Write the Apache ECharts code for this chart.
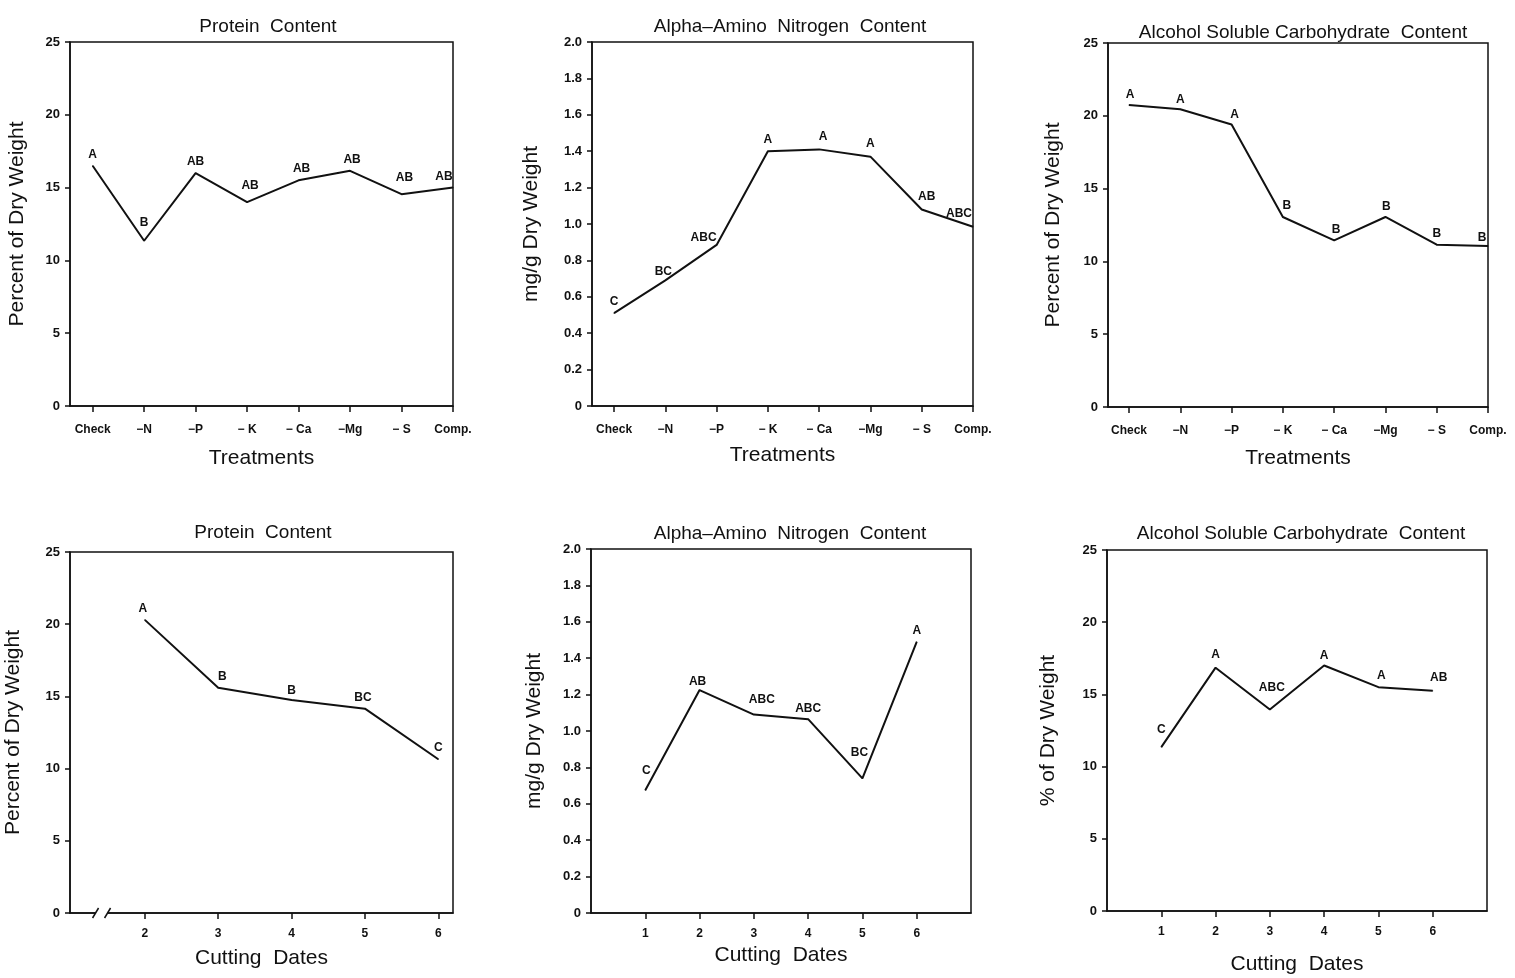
<!DOCTYPE html>
<html>
<head>
<meta charset="utf-8">
<script src="https://cdn.jsdelivr.net/npm/echarts@6.0.0/dist/echarts.min.js"></script>
<style>
html, body { margin: 0; padding: 0; background: #fff; }
#chart { width: 1515px; height: 978px; }
</style>
</head>
<body>
<div id="chart"></div>
<script>
// treatments (top row) and cutting dates (bottom row)
var treatments = ["Check", "\u2212N", "\u2212P", "\u2212 K", "\u2212 Ca", "\u2212Mg", "\u2212 S", "Comp."];
var treatmentIdx = [0, 1, 2, 3, 4, 5, 6, 7];
var cuttingDates = [1, 2, 3, 4, 5, 6];
var proteinDates = [2, 3, 4, 5, 6];

var proteinTrt = [16.5, 11.35, 16.0, 14.0, 15.5, 16.15, 14.55, 15.0];
var proteinTrtLetters = ["A", "B", "AB", "AB", "AB", "AB", "AB", "AB"];
var aminoTrt = [0.51, 0.69, 0.885, 1.40, 1.41, 1.37, 1.08, 0.985];
var aminoTrtLetters = ["C", "BC", "ABC", "A", "A", "A", "AB", "ABC"];
var carbTrt = [20.75, 20.45, 19.4, 13.05, 11.45, 13.05, 11.15, 11.05];
var carbTrtLetters = ["A", "A", "A", "B", "B", "B", "B", "B"];

var proteinDate = [20.3, 15.6, 14.75, 14.15, 10.65];
var proteinDateLetters = ["A", "B", "B", "BC", "C"];
var aminoDate = [0.675, 1.225, 1.09, 1.065, 0.74, 1.49];
var aminoDateLetters = ["C", "AB", "ABC", "ABC", "BC", "A"];
var carbDate = [11.35, 16.85, 13.95, 17.0, 15.5, 15.25];
var carbDateLetters = ["C", "A", "ABC", "A", "A", "AB"];

var pctTicks = [0, 5, 10, 15, 20, 25];
var mgTicks = [0, 0.2, 0.4, 0.6, 0.8, 1.0, 1.2, 1.4, 1.6, 1.8, 2.0];

var font = "Liberation Sans";
var ink = "#111";

var panels = [
  { title: "Protein  Content", tx: 263, ty: 12, grid: [70, 42, 383, 364],
    xs: treatmentIdx, ys: proteinTrt, letters: proteinTrtLetters,
    xMin: -0.44, xMax: 7, xTicks: treatmentIdx, xNames: treatments, xName: "Treatments", xGap: 42, xMargin: 18,
    yMax: 25, yTicks: pctTicks, yName: "Percent of Dry Weight", yGap: 42,
    shift: [[0, 0], [0, -7], [0, 0], [3, -5], [3, 0], [2, 0], [3, -5], [-9, 1]] },
  { title: "Alpha\u2013Amino  Nitrogen  Content", tx: 785, ty: 12, grid: [592, 42, 381, 364],
    xs: treatmentIdx, ys: aminoTrt, letters: aminoTrtLetters,
    xMin: -0.43, xMax: 7, xTicks: treatmentIdx, xNames: treatments, xName: "Treatments", xGap: 39, xMargin: 18,
    yMax: 2, yTicks: mgTicks, yName: "mg/g Dry Weight", yGap: 50,
    shift: [[0, 0], [-2, 3], [-13, 4], [0, 0], [4, -1], [0, -1], [5, -1], [-14, -2]] },
  { title: "Alcohol Soluble Carbohydrate  Content", tx: 1298, ty: 18, grid: [1108, 43, 380, 364],
    xs: treatmentIdx, ys: carbTrt, letters: carbTrtLetters,
    xMin: -0.41, xMax: 7, xTicks: treatmentIdx, xNames: treatments, xName: "Treatments", xGap: 41, xMargin: 18,
    yMax: 25, yTicks: pctTicks, yName: "Percent of Dry Weight", yGap: 44,
    shift: [[1, 1], [0, 2], [3, 2], [4, 0], [2, 1], [1, 1], [0, 1], [-6, 3]] },
  { title: "Protein  Content", tx: 258, ty: 518, grid: [70, 552, 383, 361],
    xs: proteinDates, ys: proteinDate, letters: proteinDateLetters,
    xMin: 0.98, xMax: 6.2, xTicks: proteinDates, xNames: null, xName: "Cutting  Dates", xGap: 35, xMargin: 15,
    yMax: 25, yTicks: pctTicks, yName: "Percent of Dry Weight", yGap: 46,
    shift: [[-2, 0], [4, 0], [0, 2], [-2, 1], [0, 0]] },
  { title: "Alpha\u2013Amino  Nitrogen  Content", tx: 785, ty: 519, grid: [591, 549, 380, 364],
    xs: cuttingDates, ys: aminoDate, letters: aminoDateLetters,
    xMin: 0, xMax: 7, xTicks: cuttingDates, xNames: null, xName: "Cutting  Dates", xGap: 32, xMargin: 15,
    yMax: 2, yTicks: mgTicks, yName: "mg/g Dry Weight", yGap: 46,
    shift: [[1, -8], [-2, 3], [8, -3], [0, 1], [-3, -14], [0, 0]] },
  { title: "Alcohol Soluble Carbohydrate  Content", tx: 1296, ty: 519, grid: [1107, 550, 380, 361],
    xs: cuttingDates, ys: carbDate, letters: carbDateLetters,
    xMin: 0, xMax: 7, xTicks: cuttingDates, xNames: null, xName: "Cutting  Dates", xGap: 43, xMargin: 15,
    yMax: 25, yTicks: pctTicks, yName: "% of Dry Weight", yGap: 48,
    shift: [[0, -6], [0, -1], [2, -10], [0, 2], [3, 0], [6, -2]] }
];

var option = {
  backgroundColor: "#fff",
  animation: false,
  title: [], grid: [], xAxis: [], yAxis: [], series: []
};

panels.forEach(function (p, i) {
  option.title.push({
    text: p.title, left: p.tx, top: p.ty, textAlign: "center",
    textStyle: { fontFamily: font, fontSize: 19, fontWeight: "normal", color: ink }
  });
  option.grid.push({
    left: p.grid[0], top: p.grid[1], width: p.grid[2], height: p.grid[3],
    show: true, borderColor: ink, borderWidth: 1.5, backgroundColor: "transparent"
  });
  option.xAxis.push({
    type: "value", gridIndex: i, min: p.xMin, max: p.xMax,
    name: p.xName, nameLocation: "middle", nameGap: p.xGap,
    nameTextStyle: { fontFamily: font, fontSize: 21, color: ink },
    axisLine: { show: true, onZero: false, lineStyle: { color: ink, width: 1.5 } },
    axisTick: { show: true, length: 6, customValues: p.xTicks, lineStyle: { color: ink, width: 1.5 } },
    axisLabel: {
      customValues: p.xTicks, margin: p.xMargin, color: ink,
      fontFamily: font, fontSize: 12, fontWeight: "bold",
      formatter: (function (names) {
        return function (v) { return names ? names[Math.round(v)] : String(v); };
      })(p.xNames)
    },
    splitLine: { show: false }
  });
  var step = p.yTicks[1] - p.yTicks[0];
  option.yAxis.push({
    type: "value", gridIndex: i, min: 0, max: p.yMax, interval: step,
    name: p.yName, nameLocation: "middle", nameGap: p.yGap,
    nameTextStyle: { fontFamily: font, fontSize: 21, color: ink },
    axisLine: { show: true, onZero: false, lineStyle: { color: ink, width: 1.5 } },
    axisTick: { show: true, length: 5, lineStyle: { color: ink, width: 1.5 } },
    axisLabel: {
      margin: 10, color: ink, fontFamily: font, fontSize: 13, fontWeight: "bold",
      formatter: function (v) {
        if (v === 0) return "0";
        return step < 1 ? v.toFixed(1) : String(v);
      }
    },
    splitLine: { show: false }
  });
  option.series.push({
    type: "line", xAxisIndex: i, yAxisIndex: i,
    symbol: "circle", symbolSize: 1, itemStyle: { color: ink },
    lineStyle: { color: ink, width: 2 },
    label: {
      show: true, position: "top", distance: 5, color: ink,
      fontFamily: font, fontSize: 12, fontWeight: "bold"
    },
    data: p.xs.map(function (x, j) {
      return {
        value: [x, p.ys[j]],
        label: { formatter: p.letters[j], offset: p.shift[j] }
      };
    })
  });
});

var chart = echarts.init(document.getElementById("chart"));
chart.setOption(option);

// axis break mark on the bottom-left x axis
var brk = chart.convertToPixel({ xAxisIndex: 3, yAxisIndex: 3 }, [1.41, 0]);
chart.setOption({
  graphic: [
    { type: "rect", shape: { x: brk[0] - 6, y: brk[1] - 2, width: 12, height: 4 },
      style: { fill: "#fff" }, z: 100 },
    { type: "line", shape: { x1: brk[0] - 9, y1: brk[1] + 5, x2: brk[0] - 3, y2: brk[1] - 5 },
      style: { stroke: ink, lineWidth: 1.5 }, z: 101 },
    { type: "line", shape: { x1: brk[0] + 3, y1: brk[1] + 5, x2: brk[0] + 9, y2: brk[1] - 5 },
      style: { stroke: ink, lineWidth: 1.5 }, z: 101 }
  ]
});
</script>
</body>
</html>
